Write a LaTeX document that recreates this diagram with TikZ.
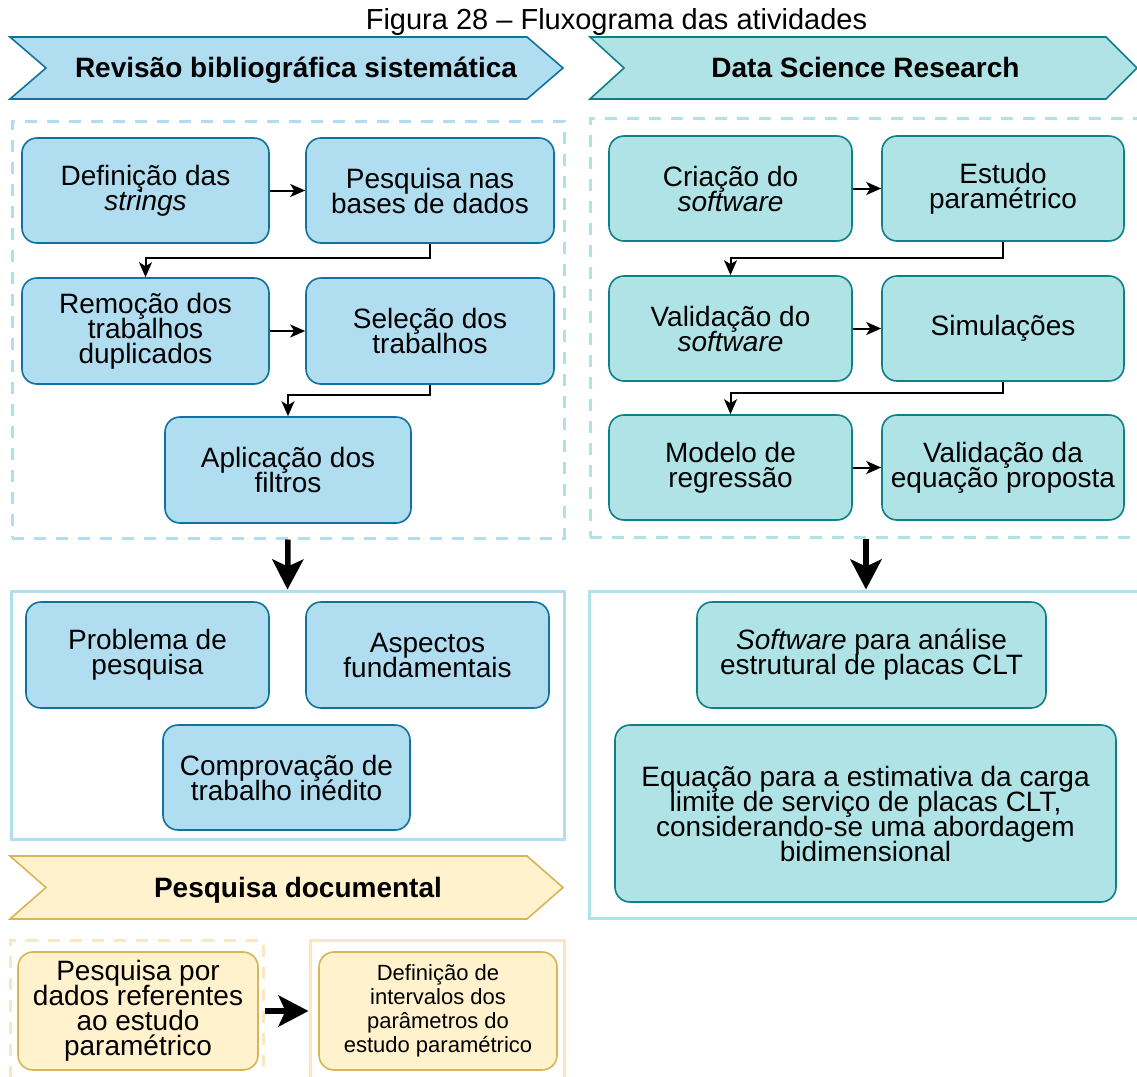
\documentclass[tikz,border=0pt]{standalone}
\usepackage{fontspec}
\setmainfont{Liberation Sans}
\usetikzlibrary{arrows.meta}

\definecolor{bfill}{HTML}{B1DDF0}
\definecolor{bline}{HTML}{10739E}
\definecolor{tfill}{HTML}{B0E3E6}
\definecolor{tline}{HTML}{0E8088}
\definecolor{yfill}{HTML}{FFF2CC}
\definecolor{yline}{HTML}{D6B656}
\definecolor{yframe}{HTML}{FBE6C2}

% fixed line spacing inside the boxes, whatever the letters
\newcommand\boxfont[2]{\fontsize{#1}{#2}\selectfont\lineskiplimit=-50pt\relax}

\tikzset{
  box/.style={draw, rounded corners=15pt, line width=1.6pt, align=center,
    inner sep=0pt, font=\boxfont{28}{25}},
  sz/.style 2 args={minimum width=#1pt, minimum height=#2pt},
  bluebox/.style={box, fill=bfill, draw=bline},
  tealbox/.style={box, fill=tfill, draw=tline},
  yellowbox/.style={box, fill=yfill, draw=yline},
  frame/.style={draw, line width=3pt, inner sep=0pt},
  dashframe/.style={frame, dash pattern=on 12pt off 10pt},
  banner/.style={line width=1.6pt, line join=miter},
  bannertext/.style={font=\bfseries\fontsize{28}{30}\selectfont, anchor=base},
  conn/.style={line width=2pt, -{Stealth[length=15pt,width=13pt,inset=4pt]}},
  bigarrow/.style={line width=5.5pt, -{Stealth[length=30pt,width=31pt,inset=7pt]}}
}

\begin{document}
\begin{tikzpicture}[x=1pt,y=-1pt]
\path[use as bounding box] (0,0) rectangle (1137,1076);
\clip (0,0) rectangle (1137,1076);
\fill[white] (0,0) rectangle (1137,1076);

% caption
\node[font=\fontsize{29}{34}\selectfont, anchor=base, inner sep=0pt] (caption)
  at (616.5,29) {Figura 28 – Fluxograma das atividades};

% ---------- section banners ----------
\draw[banner, fill=bfill, draw=bline]
  (10,37) -- (527,37) -- (563,68) -- (527,99) -- (10,99) -- (46,68) -- cycle;
\node[bannertext] (rsbanner) at (296,77) {Revisão bibliográfica sistemática};

\draw[banner, fill=tfill, draw=tline]
  (590,37) -- (1106,37) -- (1137,68) -- (1106,99) -- (590,99) -- (624,68) -- cycle;
\node[bannertext] (dsbanner) at (865.5,77) {Data Science Research};

\draw[banner, fill=yfill, draw=yline]
  (10,856) -- (527,856) -- (563,887.5) -- (527,919) -- (10,919) -- (46,887.5) -- cycle;
\node[bannertext] (pdbanner) at (298,897) {Pesquisa documental};

% ---------- frames ----------
\node[dashframe, draw=bfill, sz={552}{417}] (rsframe) at (288,329.5) {};
\node[frame, draw=bfill, sz={553}{248}] (rsout) at (287.5,715) {};
\node[dashframe, draw=tfill, sz={552}{419}] (dsframe) at (866,327.5) {};
\node[frame, draw=tfill, sz={554}{327}] (dsout) at (866,754.5) {};
\node[dashframe, draw=yframe, sz={253}{160}] (pdframe) at (136.5,1020) {};
\node[frame, draw=yframe, sz={254}{160}] (diframe) at (437,1020) {};

% ---------- systematic review ----------
\node[bluebox, sz={247}{105}] (defstr) at (145.5,190.5) {Definição das\\\textit{strings}};
\node[bluebox, sz={248}{105}] (pesqbases) at (430,190.5) {Pesquisa nas\\bases de dados};
\node[bluebox, sz={247}{106}] (remocao) at (145.5,331) {Remoção dos\\trabalhos\\duplicados};
\node[bluebox, sz={248}{106}] (selecao) at (430,331) {Seleção dos\\trabalhos};
\node[bluebox, sz={246}{106}] (aplic) at (288,470) {Aplicação dos\\filtros};

\node[bluebox, sz={243}{106}] (problema) at (147.5,655) {Problema de\\pesquisa};
\node[bluebox, sz={243}{106}] (aspectos) at (427.5,655) {Aspectos\\fundamentais};
\node[bluebox, sz={247}{105}] (comprov) at (286.5,777.5) {Comprovação de\\trabalho inédito};

\draw[conn] (defstr.east) -- (pesqbases.west);
\draw[conn] (pesqbases.south) -- ++(0,14) -| (remocao.north);
\draw[conn] (remocao.east) -- (selecao.west);
\draw[conn] (selecao.south) -- ++(0,10) -| (aplic.north);
\draw[bigarrow] (rsframe.south) -- (rsout.north);

% ---------- data science research ----------
\node[tealbox, sz={243}{105}] (criacao) at (730.5,188.5) {Criação do\\\textit{software}};
\node[tealbox, sz={242}{105}] (estudo) at (1003,188.5) {Estudo\\paramétrico};
\node[tealbox, sz={243}{105}] (validsw) at (730.5,328.5) {Validação do\\\textit{software}};
\node[tealbox, sz={242}{105}] (simul) at (1003,328.5) {Simulações};
\node[tealbox, sz={243}{105}] (modelo) at (730.5,467.5) {Modelo de\\regressão};
\node[tealbox, sz={242}{105}] (valideq) at (1003,467.5) {Validação da\\equação proposta};

\node[tealbox, sz={349}{106}] (software) at (871.5,655) {\textit{Software} para análise\\estrutural de placas CLT};
\node[tealbox, sz={501}{177}] (equacao) at (865.5,813.5)
  {Equação para a estimativa da carga\\limite de serviço de placas CLT,\\considerando-se uma abordagem\\bidimensional};

\draw[conn] (criacao.east) -- (estudo.west);
\draw[conn] (estudo.south) -- ++(0,16) -| (validsw.north);
\draw[conn] (validsw.east) -- (simul.west);
\draw[conn] (simul.south) -- ++(0,11) -| (modelo.north);
\draw[conn] (modelo.east) -- (valideq.west);
\draw[bigarrow] (dsframe.south) -- (dsout.north);

% ---------- documentary research ----------
\node[yellowbox, sz={240}{118}] (pesqdados) at (138,1011)
  {Pesquisa por\\dados referentes\\ao estudo\\paramétrico};
\node[yellowbox, sz={238}{118}, font=\boxfont{22}{24}] (definterv) at (438,1011)
  {Definição de\\intervalos dos\\parâmetros do\\estudo paramétrico};

\draw[bigarrow] (pesqdados.east -| pdframe.east) -- (pesqdados.east -| diframe.west);
\end{tikzpicture}
\end{document}
